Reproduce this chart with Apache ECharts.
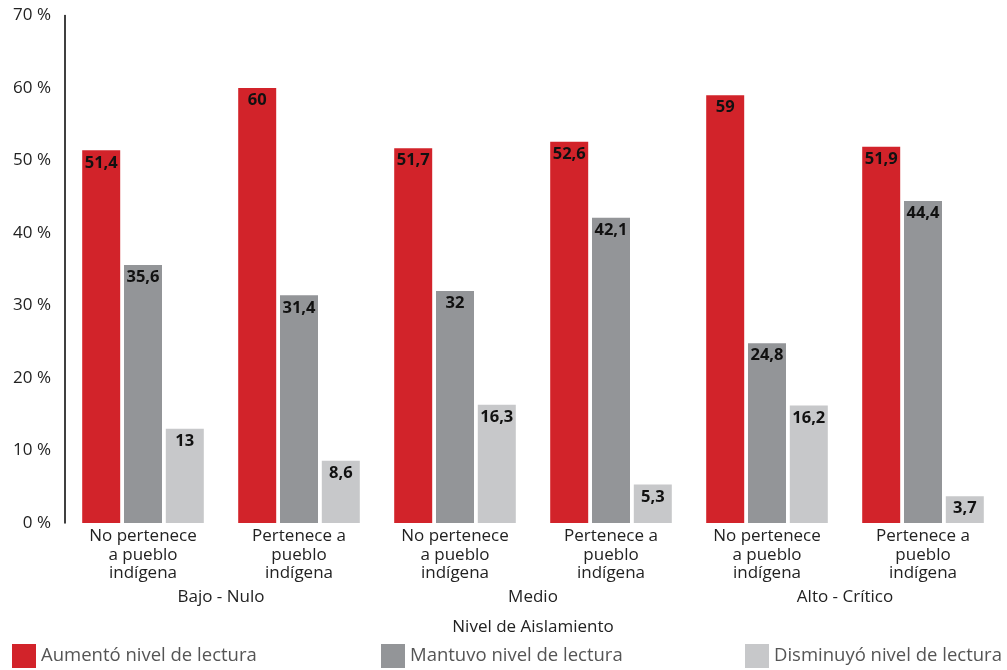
<!DOCTYPE html>
<html>
<head>
<meta charset="utf-8">
<script src="https://cdn.jsdelivr.net/npm/echarts@6/dist/echarts.min.js"></script>
<style>
  html, body { margin: 0; padding: 0; background: #fff; }
  #chart { width: 1007px; height: 670px; }
</style>
</head>
<body>
<div id="chart"></div>
<script>
// Reading-level change by isolation level and indigenous membership (%)
const categories = [
  'No pertenece\na pueblo\nindígena', 'Pertenece a\npueblo\nindígena',
  'No pertenece\na pueblo\nindígena', 'Pertenece a\npueblo\nindígena',
  'No pertenece\na pueblo\nindígena', 'Pertenece a\npueblo\nindígena'
];
const groups = ['Bajo - Nulo', 'Medio', 'Alto - Crítico'];
const seriesNames = ['Aumentó nivel de lectura', 'Mantuvo nivel de lectura', 'Disminuyó nivel de lectura'];
const aumento = [51.4, 60, 51.7, 52.6, 59, 51.9];
const mantuvo = [35.6, 31.4, 32, 42.1, 24.8, 44.4];
const disminuyo = [13, 8.6, 16.3, 5.3, 16.2, 3.7];
const yTicks = [0, 10, 20, 30, 40, 50, 60, 70];

const FONT = 'Open Sans, Noto Sans, sans-serif';
const colors = ['#D2232A', '#939598', '#C7C8CA'];

const chart = echarts.init(document.getElementById('chart'), null, { renderer: 'canvas' });

function barSeries(name, data, color) {
  return {
    name: name,
    type: 'bar',
    xAxisIndex: 0,
    data: data,
    barWidth: 38,
    barGap: '10%',
    itemStyle: { color: color },
    label: {
      show: true,
      position: 'insideTop',
      distance: 4,
      color: '#111',
      fontWeight: 'bold',
      fontSize: 16.5,
      fontFamily: FONT,
      formatter: p => String(p.value).replace('.', ',')
    }
  };
}

function legendAt(name, left) {
  return {
    data: [name],
    left: left,
    top: 644,
    itemWidth: 24,
    itemHeight: 24,
    itemGap: 6,
    padding: 0,
    icon: 'rect',
    textStyle: { color: '#555', fontSize: 18.5, fontFamily: FONT, padding: [0, 0, 0, 0] }
  };
}

chart.setOption({
  animation: false,
  color: colors,
  grid: { left: 65, right: 6, top: 15.5, bottom: 147, containLabel: false },
  legend: [
    legendAt(seriesNames[0], 12),
    legendAt(seriesNames[1], 381),
    legendAt(seriesNames[2], 745)
  ],
  xAxis: [
    {
      type: 'category',
      data: categories,
      position: 'bottom',
      axisLine: { show: false },
      axisTick: { show: false },
      axisLabel: {
        interval: 0,
        margin: 4,
        color: '#222',
        fontSize: 17,
        lineHeight: 18.5,
        fontFamily: FONT
      }
    },
    {
      type: 'category',
      data: groups,
      position: 'bottom',
      offset: 60,
      axisLine: { show: false },
      axisTick: { show: false },
      axisLabel: {
        interval: 0,
        margin: 5,
        color: '#222',
        fontSize: 17,
        lineHeight: 18,
        fontFamily: FONT
      },
      name: 'Nivel de Aislamiento',
      nameLocation: 'middle',
      nameGap: 36,
      nameTextStyle: { color: '#222', fontSize: 17, fontFamily: FONT }
    }
  ],
  yAxis: {
    type: 'value',
    min: yTicks[0],
    max: yTicks[yTicks.length - 1],
    interval: 10,
    axisLine: { show: true, lineStyle: { color: '#000', width: 1.5 } },
    axisTick: { show: false },
    splitLine: { show: false },
    axisLabel: {
      margin: 14,
      color: '#222',
      fontSize: 17,
      fontFamily: FONT,
      formatter: '{value} %'
    }
  },
  series: [
    barSeries(seriesNames[0], aumento, colors[0]),
    barSeries(seriesNames[1], mantuvo, colors[1]),
    barSeries(seriesNames[2], disminuyo, colors[2])
  ]
});
</script>
</body>
</html>
